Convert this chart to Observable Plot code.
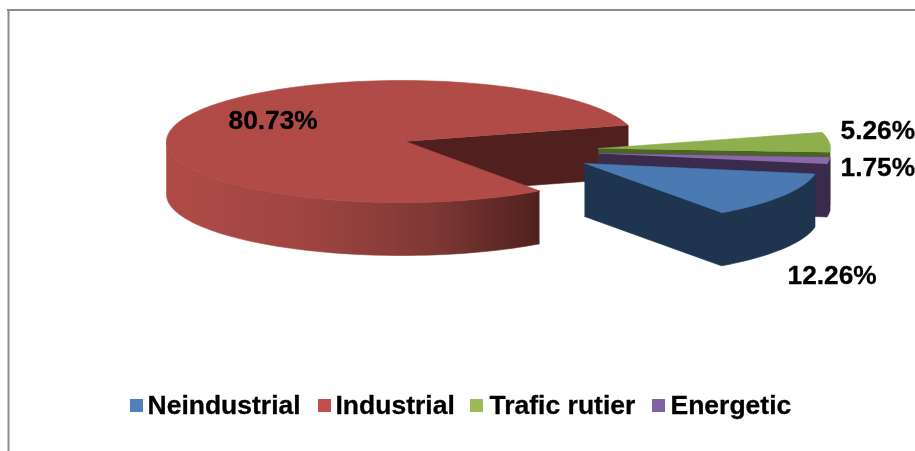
<!DOCTYPE html>
<html>
<head>
<meta charset="utf-8">
<style>html,body{margin:0;padding:0;background:#fff;overflow:hidden}svg{display:block;filter:blur(0.4px)}</style>
<script src="https://cdn.jsdelivr.net/npm/d3@7"></script>
<script src="https://cdn.jsdelivr.net/npm/@observablehq/plot@0.6"></script>
</head>
<body>
<script>
// Data
const categories = ["Neindustrial", "Industrial", "Trafic rutier", "Energetic"];
const shares = [12.26, 80.73, 5.26, 1.75];

// Look and layout
const topColors = ["#4a7ab1", "#b04b47", "#8fae4c", "#8a68aa"];
const wallColors = ["#1f344f", "#4f201d", "#4a6423", "#3a2a4c"];
const legendColors = ["#4f81bd", "#c0504d", "#9bbb59", "#8064a2"];
const arcCenterX = [583, 401, 595, 595];
const arcCenterY = [163, 141, 148, 153];
const apexX = [584, 405, 598, 598];
const apexY = [163, 141, 148, 153];
const labelX = [787, 228, 840, 840];
const labelY = [278, 123, 133, 170];
const legendSwatchX = [130, 318, 470, 652];
const legendTextX = [147, 335, 489, 670];
const rx = 235, ry = 61, depth = 53, startAngle = 9.9;
const font = "Liberation Sans, Arial, sans-serif";
const wallStops = [[0, "#b04b47"], [0.36, "#a04541"], [0.71, "#7f3835"], [1, "#4f211e"]];

// Slice angles follow from the shares
let acc = startAngle;
const slices = categories.map((name, i) => {
  const a0 = acc; acc += shares[i] * 3.6;
  return {name, i, a0, a1: acc, cx: arcCenterX[i], cy: arcCenterY[i], ax: apexX[i], ay: apexY[i]};
});
const pt = (s, deg, dz = 0) => {
  const t = deg * Math.PI / 180;
  return {x: s.cx + rx * Math.cos(t), y: s.cy + ry * Math.sin(t) + dz};
};
const arc = (s, a0, a1, dz = 0) => {
  const n = Math.max(2, Math.ceil(Math.abs(a1 - a0) / 2));
  return d3.range(n + 1).map(k => pt(s, a0 + (a1 - a0) * k / n, dz));
};
const topFace = s => [{x: s.ax, y: s.ay}, ...arc(s, s.a0, s.a1)];
const poly = (points, fill) =>
  Plot.line(points, {x: "x", y: "y", fill, stroke: fill, strokeWidth: 0.6, curve: "linear"});

const [neind, indus, traf, ener] = slices;

// Walls
const radialWall = (s, deg) => {
  const p = pt(s, deg), q = pt(s, deg, depth);
  return [{x: s.ax, y: s.ay}, p, q, {x: s.ax, y: s.ay + depth}];
};
const fullWall = s => [{x: s.ax, y: s.ay}, pt(s, s.a0), ...arc(s, s.a0, s.a1, depth), {x: s.ax, y: s.ay + depth}];
const redOuterWall = [...arc(indus, indus.a0, 180), ...arc(indus, 180, indus.a0, depth)];

// Horizontal shading of the red outer wall
const redGradient = (index, {x}) => {
  const defs = d3.create("svg:defs");
  const g = defs.append("linearGradient").attr("id", "redWall")
    .attr("gradientUnits", "userSpaceOnUse")
    .attr("x1", x(pt(indus, 180).x)).attr("x2", x(pt(indus, indus.a0).x))
    .attr("y1", 0).attr("y2", 0);
  wallStops.forEach(([o, c]) => g.append("stop").attr("offset", o).attr("stop-color", c));
  return defs.node();
};

const table = categories.map((name, i) => ({
  name, share: shares[i], label: shares[i].toFixed(2) + "%",
  lx: labelX[i], ly: labelY[i], sx: legendSwatchX[i], tx: legendTextX[i], color: legendColors[i]
}));

const marks = [
  Plot.ruleY([9.5], {x1: 7, x2: 915, stroke: "#8c8c8c", strokeWidth: 2}),
  Plot.ruleX([8], {y1: 9, y2: 451, stroke: "#8c8c8c", strokeWidth: 2}),
  redGradient,
  // Industrial
  poly(radialWall(indus, indus.a1), wallColors[1]),
  poly(redOuterWall, "url(#redWall)"),
  poly(topFace(indus), topColors[1]),
  // Trafic rutier
  poly(radialWall(traf, traf.a1), wallColors[2]),
  poly(topFace(traf), topColors[2]),
  // Energetic
  poly(fullWall(ener), wallColors[3]),
  poly(topFace(ener), topColors[3]),
  // Neindustrial
  poly(fullWall(neind), wallColors[0]),
  poly(topFace(neind), topColors[0]),
  // Value labels
  Plot.text(table, {x: "lx", y: "ly", text: "label", textAnchor: "start", lineAnchor: "bottom",
    fontFamily: font, fontWeight: "bold", fontSize: 26.3, fill: "#000", stroke: "#000", strokeWidth: 0.3, dy: 5}),
  // Legend
  Plot.rect(table, {x1: "sx", x2: d => d.sx + 13, y1: () => 399, y2: () => 412, fill: "color"}),
  Plot.text(table, {x: "tx", y: () => 408, text: "name", textAnchor: "start", lineAnchor: "bottom",
    fontFamily: font, fontWeight: "bold", fontSize: 26.5, fill: "#000", stroke: "#000", strokeWidth: 0.3, dy: 5})
];

const chart = Plot.plot({
  width: 915, height: 451,
  margin: 0,
  style: {background: "#fff", overflow: "hidden"},
  x: {domain: [0, 915], range: [0, 915], axis: null},
  y: {domain: [0, 451], range: [0, 451], axis: null},
  marks
});
document.body.appendChild(chart);
</script>
</body>
</html>
